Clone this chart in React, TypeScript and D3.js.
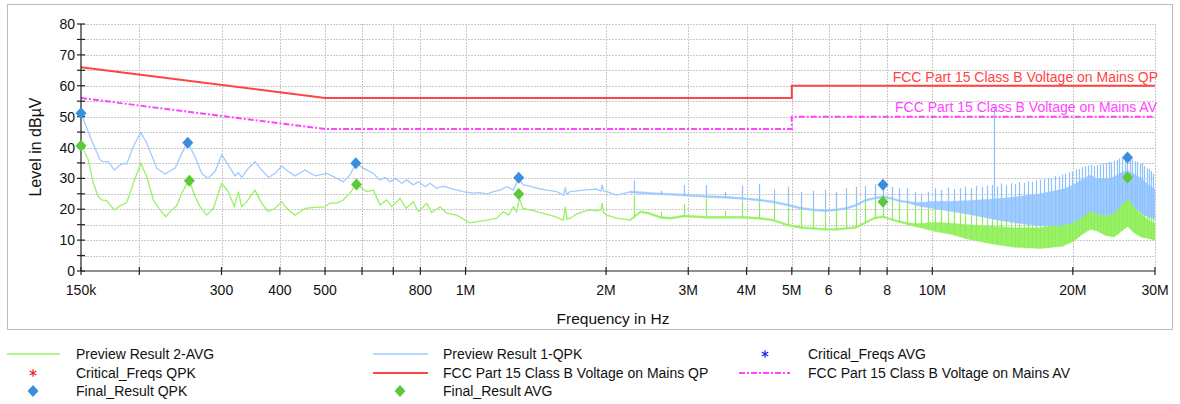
import React from 'react';
import * as d3 from 'd3';

// ---------- DATA (frequency in MHz, level in dBµV) ----------
const xTickValues = [0.15, 0.2, 0.3, 0.4, 0.5, 0.6, 0.7, 0.8, 1, 2, 3, 4, 5, 6, 7, 8, 10, 20, 30];
const xTickLabels = ['150k', '', '300', '400', '500', '', '', '800', '1M', '2M', '3M', '4M', '5M', '6', '', '8', '10M', '20M', '30M'];
const yTickValues = [0, 10, 20, 30, 40, 50, 60, 70, 80];

const qpLimit: [number, number][] = [[0.15, 66], [0.5, 56], [5, 56], [5, 60], [30, 60]];
const avLimit: [number, number][] = [[0.15, 56], [0.5, 46], [5, 46], [5, 50], [30, 50]];

// Preview Result 1-QPK, low-frequency part
const qpkTrace: [number, number][] = [
  [0.150, 51.1], [0.158, 42.4], [0.1647, 36.0], [0.1674, 35.4], [0.1716, 35.4], [0.1768, 32.7], [0.1818, 34.3],
  [0.1857, 34.9], [0.1879, 34.7], [0.1942, 40.3], [0.2014, 44.9], [0.2075, 41.4], [0.218, 33.3], [0.2271, 31.4],
  [0.2347, 32.7], [0.2385, 33.3], [0.2465, 38.1], [0.2539, 41.6], [0.2633, 37.0], [0.2721, 31.6], [0.2803, 30.0],
  [0.2906, 32.2], [0.3004, 37.6], [0.3103, 34.3], [0.3207, 30.8], [0.326, 31.8], [0.3315, 30.3], [0.3425, 33.3],
  [0.3539, 35.4], [0.3658, 32.7], [0.3779, 30.3], [0.3906, 31.6], [0.4037, 34.0], [0.4172, 32.2], [0.4311, 30.8],
  [0.4531, 32.7], [0.4759, 30.8], [0.5042, 31.6], [0.5252, 30.3], [0.5472, 28.9], [0.5656, 31.1], [0.5825, 34.9],
  [0.604, 33.3], [0.6345, 31.6], [0.6559, 29.5], [0.6722, 30.3], [0.689, 28.9], [0.7062, 30.0], [0.730, 28.4],
  [0.7482, 29.5], [0.7729, 27.9], [0.7923, 28.9], [0.8189, 27.3], [0.8393, 28.4], [0.8676, 26.8], [0.8962, 27.5],
  [0.9415, 26.5], [0.9892, 25.7], [1.039, 25.2], [1.074, 25.4], [1.110, 24.9], [1.147, 25.7], [1.186, 26.2],
  [1.225, 27.3], [1.266, 26.2], [1.298, 29.8], [1.330, 27.9], [1.375, 27.5], [1.421, 26.8], [1.493, 26.2],
  [1.568, 25.7], [1.620, 24.6], [1.635, 26.8], [1.650, 24.8], [1.675, 25.7], [1.788, 26.2], [1.910, 26.5],
  [1.950, 25.9], [1.962, 27.9], [1.975, 25.9], [2.007, 25.7], [2.108, 24.6], [2.251, 25.6],
];

// Preview Result 2-AVG, low-frequency part
const avgTrace: [number, number][] = [
  [0.150, 41.3], [0.1555, 36.0], [0.1594, 28.4], [0.1634, 24.1], [0.1661, 23.0], [0.1703, 22.8], [0.1768, 19.8],
  [0.1818, 21.1], [0.1879, 22.1], [0.1942, 28.4], [0.2014, 34.9], [0.2075, 30.5], [0.2143, 23.0], [0.2215, 19.8],
  [0.2279, 17.6], [0.2347, 19.8], [0.2405, 21.1], [0.2465, 25.2], [0.2556, 29.5], [0.2633, 24.1], [0.2699, 20.8],
  [0.2789, 18.1], [0.2882, 20.3], [0.3004, 28.4], [0.3103, 25.7], [0.3196, 20.8], [0.326, 25.7], [0.3315, 20.8],
  [0.3398, 22.4], [0.3539, 26.2], [0.3658, 21.9], [0.3779, 19.2], [0.3906, 20.3], [0.4037, 22.4], [0.4172, 19.8],
  [0.4311, 18.1], [0.4531, 20.3], [0.4759, 20.6], [0.500, 20.8], [0.512, 22.0], [0.530, 22.0], [0.547, 23.0],
  [0.5656, 25.2], [0.5845, 28.4], [0.5992, 26.8], [0.6142, 25.7], [0.6345, 26.2], [0.6559, 21.4], [0.678, 23.0],
  [0.6949, 20.8], [0.7239, 23.5], [0.7457, 20.3], [0.7729, 22.4], [0.7923, 19.2], [0.8257, 21.9], [0.8463, 18.9],
  [0.8817, 20.8], [0.9113, 18.7], [0.9574, 18.1], [1.022, 15.6], [1.057, 16.0], [1.110, 16.5], [1.166, 17.1],
  [1.205, 19.2], [1.235, 18.1], [1.266, 20.8], [1.287, 19.2], [1.304, 23.5], [1.326, 20.3], [1.375, 19.8],
  [1.421, 19.2], [1.468, 18.7], [1.542, 17.8], [1.620, 16.5], [1.635, 20.8], [1.650, 16.8], [1.675, 17.1],
  [1.731, 18.5], [1.788, 19.2], [1.848, 19.8], [1.910, 19.5], [1.950, 19.8], [1.962, 22.0], [1.975, 19.0],
  [2.007, 18.1], [2.108, 17.1], [2.251, 16.5],
];

// High-frequency part: band envelopes [MHz, low, high]
const qpkBand: [number, number, number][] = [
  [2.25, 25.3, 25.9], [2.6, 24.7, 25.3], [2.95, 24.3, 24.9], [3.3, 23.8, 24.4], [3.6, 23.6, 24.2], [3.9, 23.2, 23.8],
  [4.25, 22.7, 23.3], [4.55, 22.1, 22.7], [4.9, 21.1, 21.7], [5.2, 20.1, 20.7], [5.55, 19.5, 20.1], [5.9, 19.2, 19.8],
  [6.2, 19.5, 20.1], [6.55, 20.0, 20.6], [6.85, 21.0, 21.6], [7.2, 22.6, 23.2], [7.5, 23.2, 23.8], [7.85, 23.8, 24.4],
  [8.15, 23.2, 23.8], [8.5, 22.4, 23.0], [8.85, 22.0, 22.6], [9.2, 21.3, 22.3], [9.5, 20.8, 22.2], [10, 20.3, 22.6],
  [11, 19.3, 22.6], [12, 18.3, 22.8], [13.5, 16.8, 23.3], [15, 15.6, 24.0], [17, 14.6, 25.0], [19, 14.8, 26.5],
  [20, 15.6, 27.8], [21, 17.5, 29.8], [21.8, 19.5, 31.0], [22.5, 18.5, 30.0], [23.5, 18.0, 29.8], [24.5, 18.6, 30.5],
  [25.5, 21.5, 32.0], [26.2, 23.5, 32.5], [27, 21.0, 31.5], [28, 18.6, 30.0], [29, 17.5, 28.0], [30, 16.8, 26.5],
];
const avgBand: [number, number, number][] = [
  [2.25, 16.2, 16.8], [2.37, 18.9, 19.5], [2.47, 18.4, 19.0], [2.61, 17.1, 17.7], [2.75, 16.8, 17.4], [2.94, 17.5, 18.1],
  [3.27, 17.1, 17.7], [3.6, 17.1, 17.7], [3.93, 17.1, 17.7], [4.25, 16.8, 17.4], [4.56, 16.2, 16.8], [4.89, 14.6, 15.2],
  [5.23, 13.8, 14.4], [5.56, 13.5, 14.1], [5.88, 13.2, 13.8], [6.21, 13.2, 13.8], [6.53, 13.5, 14.1], [6.85, 13.8, 14.4],
  [7.17, 15.3, 15.9], [7.5, 16.8, 17.4], [7.84, 17.3, 17.9], [8.17, 16.4, 17.0], [8.5, 15.7, 16.3], [8.83, 15.1, 15.7],
  [9.16, 14.4, 15.4], [9.45, 14.0, 15.4], [10, 13.0, 15.8], [11, 11.8, 15.5], [12, 10.2, 15.0], [13.5, 8.7, 14.5],
  [15, 7.7, 14.0], [17, 7.3, 14.0], [19, 8.0, 15.5], [20, 9.5, 17.0], [21, 12.0, 19.5], [21.8, 13.5, 21.4],
  [22.5, 13.0, 19.0], [23.5, 11.5, 18.0], [24.5, 11.0, 19.0], [25.5, 13.0, 22.5], [26.2, 14.5, 24.2], [27, 12.5, 21.0],
  [28, 11.0, 18.5], [29, 10.5, 16.5], [30, 10.0, 15.4],
];

// Harmonic spikes (MHz) and their peak levels
const harmonicMHz = [
  2.29, 2.62, 2.94, 3.27, 3.60, 3.92, 4.25, 4.58, 4.91, 5.23, 5.56, 5.89, 6.21, 6.54, 6.87, 7.19, 7.52, 7.85, 8.18, 8.50,
  8.83, 9.16, 9.48, 9.81, 10.14, 10.46, 10.79, 11.12, 11.45, 11.77, 12.10, 12.43, 12.75, 13.08, 13.41, 13.73, 14.06,
  14.39, 14.72, 15.04, 15.37, 15.70, 16.02, 16.35, 16.68, 17.00, 17.33, 17.66, 17.99, 18.31, 18.64, 18.97, 19.29,
  19.62, 19.95, 20.27, 20.60, 20.93, 21.26, 21.58, 21.91, 22.24, 22.56, 22.89, 23.22, 23.54, 23.87, 24.20, 24.53,
  24.85, 25.18, 25.51, 25.83, 26.16, 26.49, 26.81, 27.14, 27.47, 27.80, 28.12, 28.45, 28.78, 29.10, 29.43, 29.76,
];
const qpkSpikeTop = [
  29.2, 26.0, 27.9, 27.9, 25.7, 27.6, 28.2, 26.5, 27.3, 25.7,
  26.0, 26.2, 25.7, 26.8, 27.3, 27.5, 28.2, 27.5, 27.3, 26.8,
  26.8, 25.7, 25.2, 25.7, 26.8, 26.2, 27.0, 26.6, 26.8, 27.3,
  26.9, 27.6, 27.2, 27.6, 27.9, 27.4, 28.3, 27.8, 28.4, 28.2,
  28.8, 28.5, 29.1, 28.9, 29.4, 29.6, 29.9, 30.2, 30.1, 30.8,
  30.6, 31.3, 31.4, 32.0, 32.2, 32.9, 33.1, 33.6, 34.0, 34.2,
  34.4, 34.0, 34.3, 34.6, 34.8, 35.0, 35.3, 35.2, 35.7, 36.0,
  36.4, 36.8, 37.2, 37.6, 36.9, 36.2, 35.6, 35.3, 34.6, 34.9,
  34.0, 33.3, 33.0, 32.4, 31.5,
];
const avgSpikeTop = [
  24.3, 19.2, 21.7, 23.5, 19.5, 22.8, 22.6, 22.0, 21.0, 20.2,
  19.7, 19.4, 19.7, 20.2, 21.2, 22.8, 23.2, 23.8, 23.2, 22.4,
  22.0, 21.5, 21.0, 20.6, 20.2, 19.8, 19.4, 19.1, 18.8, 18.5,
  18.2, 17.9, 17.6, 17.3, 17.0, 16.8, 16.5, 16.3, 16.1, 15.8,
  15.6, 15.4, 15.2, 15.1, 15.0, 14.9, 14.8, 14.8, 14.8, 14.9,
  15.0, 15.2, 15.4, 15.7, 16.1, 16.8, 17.5, 18.2, 19.0, 19.6,
  20.0, 19.5, 19.0, 18.7, 18.4, 18.2, 18.4, 18.8, 19.5, 20.5,
  21.6, 22.6, 23.5, 24.3, 23.4, 22.3, 21.3, 20.4, 19.6, 19.0,
  18.4, 17.9, 17.5, 17.1, 16.8,
];
const qpkAmbientSpike: [number, number][] = [[13.56, 53.2]];

const finalQpk: [number, number][] = [[0.15, 51.1], [0.254, 41.5], [0.582, 34.9], [1.30, 30.2], [7.84, 27.9], [26.2, 36.8]];
const finalAvg: [number, number][] = [[0.15, 40.6], [0.256, 29.2], [0.584, 28.0], [1.30, 24.9], [7.84, 22.4], [26.2, 30.3]];

const C = {
  avg: '#99f266',
  qpk: '#9fcbff',
  qpkSpike: '#8ec2fb',
  avgSpike: '#8fec5a',
  qp: '#ff4444',
  av: '#ff44ff',
  mQpk: '#3a8edc',
  mAvg: '#5cc83a',
  grid: '#c8c8c8',
  axis: '#222',
};
const FONT = 'Liberation Sans, Arial, Helvetica, sans-serif';

function Diamond({ cx, cy, fill }: { cx: number; cy: number; fill: string }) {
  return <path d={`M${cx},${cy - 6}L${cx + 5.5},${cy}L${cx},${cy + 6}L${cx - 5.5},${cy}Z`} fill={fill} />;
}

export default function App() {
  const x = d3.scaleLog().domain([0.15, 30]).range([81, 1155]);
  const y = d3.scaleLinear().domain([0, 80]).range([271, 24]);
  const line = d3.line<[number, number]>().x(d => x(d[0])).y(d => y(d[1]));
  const area = d3.area<[number, number, number]>().x(d => x(d[0])).y0(d => y(d[1])).y1(d => y(d[2]));
  const qpkLowAt = d3.scaleLog().domain(qpkBand.map(d => d[0])).range(qpkBand.map(d => d[1]));
  const avgLowAt = d3.scaleLog().domain(avgBand.map(d => d[0])).range(avgBand.map(d => d[1]));
  const px = (v: number) => Math.round(v) + 0.5;

  const spikes = (tops: number[], lowAt: (f: number) => number) =>
    harmonicMHz.map((f, i) => `M${px(x(f))},${y(lowAt(f)).toFixed(1)}V${y(tops[i]).toFixed(1)}`).join('');

  const yGrid = d3.range(5, 81, 5);
  const yTicks = d3.range(0, 81, 5);
  const star = d3.symbol(d3.symbolAsterisk, 40)() as string;

  const legendRows = [354, 373, 391];
  const legendCols = [{ s: 7, e: 60, t: 76 }, { s: 373, e: 428, t: 443 }, { s: 739, e: 790, t: 808 }];

  return (
    <svg width={1180} height={404} style={{ position: 'absolute', left: 0, top: 0, background: '#fff' }} fontFamily={FONT}>
      <rect x={7.5} y={4.5} width={1165} height={325} fill="#fff" stroke="#bdbdbd" />
      {/* grid */}
      <g stroke={C.grid} strokeDasharray="2,1" strokeWidth={1}>
        {yGrid.map(v => <line key={'gy' + v} x1={81} x2={1155} y1={px(y(v))} y2={px(y(v))} />)}
        {xTickValues.slice(1).map(v => <line key={'gx' + v} x1={px(x(v))} x2={px(x(v))} y1={24} y2={271} />)}
      </g>
      {/* limit lines */}
      <path d={line(qpLimit) as string} fill="none" stroke={C.qp} strokeWidth={2} />
      <path d={line(avLimit) as string} fill="none" stroke={C.av} strokeWidth={2} strokeDasharray="6,2,2,2" />
      {/* AVG trace */}
      <path d={line(avgTrace) as string} fill="none" stroke={C.avg} strokeWidth={1.3} />
      <path d={area(avgBand) as string} fill={C.avg} stroke={C.avg} strokeWidth={0.4} />
      <path d={spikes(avgSpikeTop, avgLowAt)} stroke={C.avgSpike} strokeWidth={1.2} fill="none" />
      {/* QPK trace */}
      <path d={line(qpkTrace) as string} fill="none" stroke={C.qpk} strokeWidth={1.3} />
      <path d={area(qpkBand) as string} fill={C.qpk} stroke={C.qpk} strokeWidth={0.4} />
      <path d={spikes(qpkSpikeTop, qpkLowAt)} stroke={C.qpkSpike} strokeWidth={1.2} fill="none" />
      {qpkAmbientSpike.map((d, i) => (
        <line key={'amb' + i} x1={px(x(d[0]))} x2={px(x(d[0]))} y1={y(qpkLowAt(d[0]))} y2={y(d[1])} stroke={C.qpkSpike} strokeWidth={1.2} />
      ))}
      {/* limit labels */}
      <text x={1158} y={82} textAnchor="end" fontSize={14} fill={C.qp}>FCC Part 15 Class B Voltage on Mains QP</text>
      <text x={1157} y={111.5} textAnchor="end" fontSize={14} fill={C.av}>FCC Part 15 Class B Voltage on Mains AV</text>
      {/* axes */}
      <g stroke={C.axis} strokeWidth={1.2}>
        <line x1={81} x2={81} y1={24} y2={271} />
        <line x1={81} x2={1155} y1={271} y2={271} />
        {yTicks.map(v => <line key={'ty' + v} x1={77} x2={85} y1={y(v)} y2={y(v)} />)}
        {xTickValues.map(v => <line key={'tx' + v} x1={x(v)} x2={x(v)} y1={267} y2={275} />)}
      </g>
      <g fontSize={14} fill="#111">
        {yTickValues.map(v => <text key={'ly' + v} x={75} y={y(v) + 5} textAnchor="end">{v}</text>)}
        {xTickValues.map((v, i) => xTickLabels[i] ? (
          <text key={'lx' + v} x={x(v)} y={295} textAnchor="middle">{xTickLabels[i]}</text>
        ) : null)}
      </g>
      <text x={613} y={324} textAnchor="middle" fontSize={15.5} fill="#111">Frequency in Hz</text>
      <text transform="translate(41,147) rotate(-90)" textAnchor="middle" fontSize={16} fill="#111">Level in dBµV</text>
      {/* markers */}
      {finalQpk.map((d, i) => <Diamond key={'mq' + i} cx={x(d[0])} cy={y(d[1])} fill={C.mQpk} />)}
      {finalAvg.map((d, i) => <Diamond key={'ma' + i} cx={x(d[0])} cy={y(d[1])} fill={C.mAvg} />)}
      {/* legend */}
      <g fontSize={14} fill="#111">
        <line x1={legendCols[0].s} x2={legendCols[0].e} y1={legendRows[0]} y2={legendRows[0]} stroke={C.avg} strokeWidth={1.5} />
        <text x={legendCols[0].t} y={legendRows[0] + 5}>Preview Result 2-AVG</text>
        <line x1={legendCols[1].s} x2={legendCols[1].e} y1={legendRows[0]} y2={legendRows[0]} stroke={C.qpk} strokeWidth={1.5} />
        <text x={legendCols[1].t} y={legendRows[0] + 5}>Preview Result 1-QPK</text>
        <path d={star} transform={`translate(765,${legendRows[0]})`} stroke="#2222ee" strokeWidth={1.2} fill="none" />
        <text x={legendCols[2].t} y={legendRows[0] + 5}>Critical_Freqs AVG</text>

        <path d={star} transform={`translate(33,${legendRows[1]})`} stroke="#ee2222" strokeWidth={1.2} fill="none" />
        <text x={legendCols[0].t} y={legendRows[1] + 5}>Critical_Freqs QPK</text>
        <line x1={legendCols[1].s} x2={legendCols[1].e} y1={legendRows[1]} y2={legendRows[1]} stroke={C.qp} strokeWidth={2} />
        <text x={legendCols[1].t} y={legendRows[1] + 5}>FCC Part 15 Class B Voltage on Mains QP</text>
        <line x1={legendCols[2].s} x2={legendCols[2].e} y1={legendRows[1]} y2={legendRows[1]} stroke={C.av} strokeWidth={2} strokeDasharray="6,2,2,2" />
        <text x={legendCols[2].t} y={legendRows[1] + 5}>FCC Part 15 Class B Voltage on Mains AV</text>

        <Diamond cx={33} cy={legendRows[2]} fill={C.mQpk} />
        <text x={legendCols[0].t} y={legendRows[2] + 5}>Final_Result QPK</text>
        <Diamond cx={400} cy={legendRows[2]} fill={C.mAvg} />
        <text x={legendCols[1].t} y={legendRows[2] + 5}>Final_Result AVG</text>
      </g>
    </svg>
  );
}
